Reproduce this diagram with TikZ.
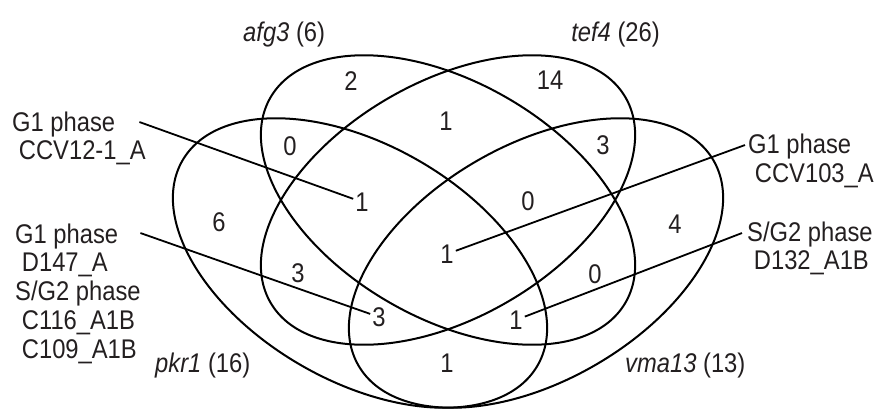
\documentclass[tikz,border=0pt]{standalone}
\usepackage{fontspec}
\setmainfont{Liberation Sans}[FakeStretch=0.88]
\definecolor{ink}{HTML}{231F20}
\begin{document}
\begin{tikzpicture}[x=1bp,y=-1bp,
  setline/.style={draw=black, line width=2bp},
  num/.style={inner sep=2bp, text=ink, font=\fontsize{27bp}{32bp}\selectfont},
  lab/.style={inner sep=0pt, anchor=base west, text=ink, font=\fontsize{27bp}{32bp}\selectfont},
  labr/.style={lab, anchor=base east},
  lead/.style={draw=black, line width=1.8bp}]
\useasboundingbox (0,0) rectangle (880,409);
% ellipses
\begin{scope}[shift={(448,200)},rotate=-30]
  \draw[setline] (0,0) ellipse [x radius=205, y radius=118];
\end{scope}
\begin{scope}[shift={(448,200)},rotate=30]
  \draw[setline] (0,0) ellipse [x radius=205, y radius=118];
\end{scope}
\begin{scope}[shift={(360,263)},rotate=-30]
  \draw[setline] (0,0) ellipse [x radius=205, y radius=118];
\end{scope}
\begin{scope}[shift={(536,263)},rotate=30]
  \draw[setline] (0,0) ellipse [x radius=205, y radius=118];
\end{scope}
% set names
\node[lab] (afg) at (243,41) {\textit{afg3} (6)};
\node[labr] (tef) at (660,41) {\textit{tef4} (26)};
\node[lab] (pkr) at (155,372) {\textit{pkr1} (16)};
\node[lab] (vma) at (625,372) {\textit{vma13} (13)};
% region counts
\node[num] (r2) at (351,81) {2};
\node[num] (r14) at (550,80) {14};
\node[num] (rt1) at (446,121) {1};
\node[num] (rl0) at (290,146) {0};
\node[num] (rr3) at (603,145) {3};
\node[num] (ra1) at (362,202) {1};
\node[num] (rc0) at (528,201) {0};
\node[num] (r6) at (219,222) {6};
\node[num] (r4) at (675,224) {4};
\node[num] (rl3) at (298,273) {3};
\node[num] (rc1) at (447,254) {1};
\node[num] (rr0) at (595,274) {0};
\node[num] (rb3) at (379,317) {3};
\node[num] (rd1) at (516,320) {1};
\node[num] (rb1) at (447,363) {1};
% side labels
\node[lab] (a1) at (12,131) {G1 phase};
\node[lab] (a2) at (18.7,159.5) {CCV12-1\_A};
\node[lab] (b1) at (15,243) {G1 phase};
\node[lab] (b2) at (21.7,271.8) {D147\_A};
\node[lab] (b3) at (15,300.6) {S/G2 phase};
\node[lab] (b4) at (21.7,329.4) {C116\_A1B};
\node[lab] (b5) at (21.7,358.2) {C109\_A1B};
\node[lab] (c1) at (748,153.5) {G1 phase};
\node[lab] (c2) at (754.7,182.3) {CCV103\_A};
\node[lab] (d1) at (747,241) {S/G2 phase};
\node[lab] (d2) at (753.7,269.8) {D132\_A1B};
% leaders
\draw[lead] ([xshift=24bp,yshift=2bp]a1.east) -- (ra1);
\draw[lead] ([xshift=22bp,yshift=3bp]b1.east) -- (rb3);
\draw[lead] ([xshift=-3bp,yshift=1.5bp]c1.west) -- (rc1);
\draw[lead] ([xshift=-5bp,yshift=1bp]d1.west) -- (rd1);
\end{tikzpicture}
\end{document}
